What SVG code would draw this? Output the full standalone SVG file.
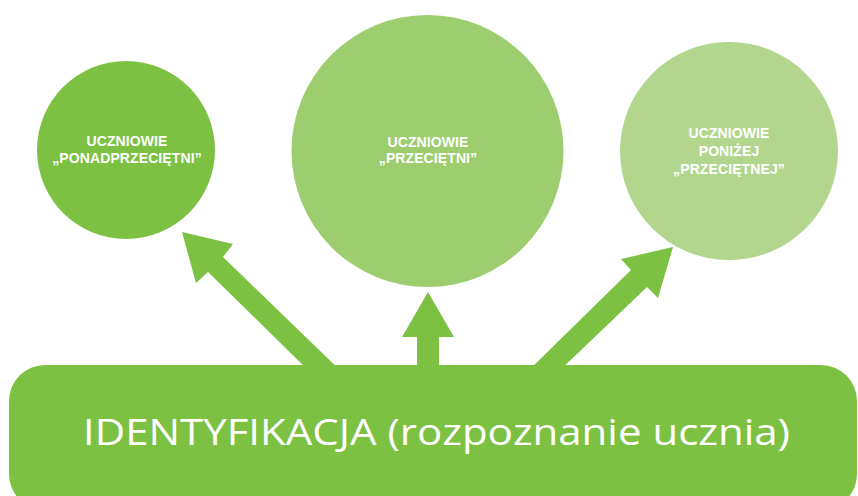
<svg xmlns="http://www.w3.org/2000/svg" width="858" height="496" viewBox="0 0 858 496">
  <style>
    .ctext { font-family: "Liberation Sans", Arial, sans-serif; font-size: 14px; font-weight: bold; fill: #ffffff; text-anchor: middle; letter-spacing: 0.1px; }
    .main { font-family: "Open Sans", "Liberation Sans", sans-serif; font-size: 37px; fill: #ffffff; }
    .arrow { fill: #7cc142; }
  </style>
  <rect width="858" height="496" fill="#ffffff"/>
  <g id="connectors">
    <polygon class="arrow" points="182,232 233,244 223,257 345,375 313,375 208,272 196,283"/>
    <polygon class="arrow" points="428,292 454,337 439,337 439,375 417,375 417,337 402,337"/>
    <polygon class="arrow" points="673,247 658,298 647,287 555,375 524,375 631,270 621,259"/>
  </g>
  <g id="node-ponad">
    <circle cx="126" cy="150" r="89" fill="#7cc142"/>
    <text class="ctext" x="127" y="146">UCZNIOWIE</text>
    <text class="ctext" x="127" y="163">„PONADPRZECIĘTNI”</text>
  </g>
  <g id="node-przecietni">
    <circle cx="427.5" cy="151" r="136" fill="#9ccd6f"/>
    <text class="ctext" x="428" y="147">UCZNIOWIE</text>
    <text class="ctext" x="428" y="163">„PRZECIĘTNI”</text>
  </g>
  <g id="node-ponizej">
    <circle cx="729" cy="151" r="109" fill="#b2d68d"/>
    <text class="ctext" x="729" y="138">UCZNIOWIE</text>
    <text class="ctext" x="729" y="156">PONIŻEJ</text>
    <text class="ctext" x="729" y="174">„PRZECIĘTNEJ”</text>
  </g>
  <g id="node-identyfikacja">
    <rect x="9" y="365" width="848" height="145" rx="36" ry="36" fill="#7cc142"/>
    <text class="main" x="83" y="445" textLength="707" lengthAdjust="spacingAndGlyphs">IDENTYFIKACJA (rozpoznanie ucznia)</text>
  </g>
</svg>
